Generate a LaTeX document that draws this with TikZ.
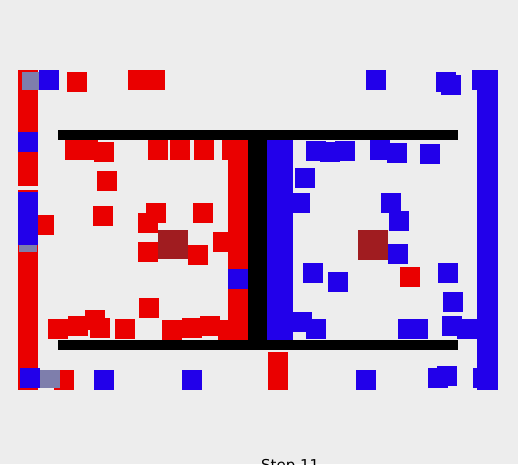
\documentclass[tikz,border=0pt]{standalone}
\usepackage{fontspec}
\setmainfont{DejaVu Sans}
\usepackage{xcolor}
\definecolor{bggray}{RGB}{237,237,237}
\definecolor{botred}{RGB}{234,0,0}
\definecolor{botblue}{RGB}{34,0,234}
\definecolor{flagred}{RGB}{160,28,32}
\definecolor{mixgray}{RGB}{126,126,172}

\begin{document}
\begin{tikzpicture}[
    x=1pt, y=-1pt,
    redbot/.style={fill=botred},
    bluebot/.style={fill=botblue},
    overlap/.style={fill=mixgray},
    flag/.style={fill=flagred},
    wall/.style={fill=black},
    caption/.style={font=\fontsize{15}{18}\selectfont, inner sep=0pt, anchor=base west}
]
    % Background
    \useasboundingbox (0,0) rectangle (518,464);
    \fill[bggray] (0,0) rectangle (518,464);

    % Red team
    \fill[redbot] (18,70) rectangle (38,186);
    \fill[redbot] (18,190) rectangle (38,390);
    \fill[redbot] (228,140) rectangle (248,340);
    \foreach \x/\y in {67/72, 128/70, 145/70,
        65/140, 78/140, 94/142, 148/140, 170/140, 194/140, 222/140,
        97/171, 93/206, 146/203, 138/213, 193/203, 34/215,
        138/242, 188/245, 213/232, 139/298,
        48/319, 68/316, 85/310, 90/318, 115/319,
        162/320, 182/318, 200/316, 218/320,
        54/370, 268/352, 268/370, 400/267}
        \fill[redbot] (\x,\y) rectangle ++(20,20);

    % Blue team
    \fill[bluebot] (477,70) rectangle (498,390);
    \fill[bluebot] (267,140) rectangle (293,340);
    \fill[bluebot] (18,192) rectangle (38,245);
    \foreach \x/\y in {39/70, 366/70, 436/72, 441/75, 472/70, 478/72,
        18/132, 228/269,
        20/368, 94/370, 182/370, 356/370, 428/368, 437/366, 473/368,
        290/193, 306/141, 320/142, 335/141, 370/140, 387/143, 420/144,
        295/168, 381/193, 389/211, 388/244,
        303/263, 328/272, 438/263, 443/292,
        398/319, 408/319, 442/316, 457/319, 292/312, 306/319}
        \fill[bluebot] (\x,\y) rectangle ++(20,20);

    % Overlaps
    \fill[overlap] (22,72) rectangle (39,90);
    \fill[overlap] (40,370) rectangle (60,388);
    \fill[overlap] (19,245) rectangle (37,252);

    % Flags
    \fill[flag] (158,230) rectangle ++(30,29);
    \fill[flag] (358,230) rectangle ++(30,30);

    % Walls
    \fill[wall] (58,130) rectangle (458,140);
    \fill[wall] (58,340) rectangle (458,350);
    \fill[wall] (248,130) rectangle (267,350);

    % Caption (cut by the page edge)
    \node[caption] (step) at (261,470) {Step 11};
\end{tikzpicture}
\end{document}
